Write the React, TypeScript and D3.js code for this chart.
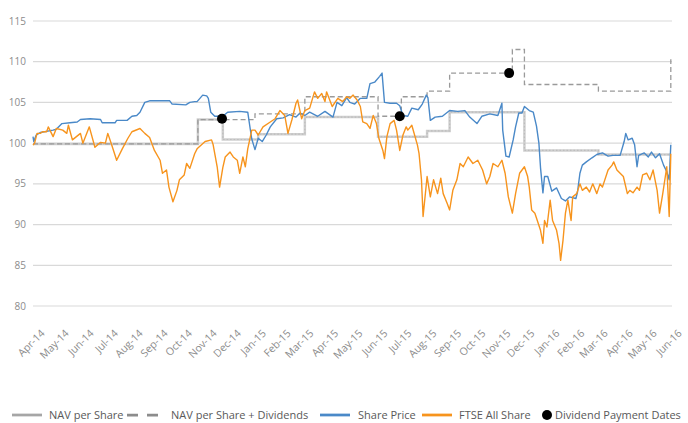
import React from "react";
import * as d3 from "d3";

// values
const navPerShare: [string, number][] = [
  ["2014-04-01", 99.9], ["2014-10-23", 102.9], ["2014-11-23", 100.45], ["2015-01-06", 101.1],
  ["2015-03-05", 103.2], ["2015-06-04", 100.8], ["2015-08-04", 101.5], ["2015-09-01", 103.8],
  ["2015-12-03", 99.1], ["2016-03-04", 98.6], ["2016-06-02", 98.6],
];

const navPlusDividends: [string, number][] = [
  ["2014-04-01", 99.9], ["2014-10-23", 102.9], ["2015-01-02", 103.6], ["2015-03-05", 105.7],
  ["2015-06-04", 103.3], ["2015-07-03", 105.7], ["2015-08-04", 106.4], ["2015-09-01", 108.6],
  ["2015-11-18", 111.5], ["2015-12-03", 107.2], ["2016-03-04", 106.4], ["2016-06-01", 106.4],
  ["2016-06-02", 110.3],
];

const sharePrice: [string, number][] = [
  ["2014-04-01", 100.8], ["2014-04-02", 100.2], ["2014-04-05", 101.0], ["2014-04-10", 101.3],
  ["2014-04-26", 101.6], ["2014-04-30", 101.7], ["2014-05-07", 102.4], ["2014-05-17", 102.5],
  ["2014-05-26", 102.6], ["2014-05-30", 102.9], ["2014-06-11", 103.0], ["2014-06-24", 102.9],
  ["2014-06-26", 102.5], ["2014-07-12", 102.5], ["2014-07-14", 102.8], ["2014-07-27", 102.8],
  ["2014-08-02", 103.3], ["2014-08-08", 103.4], ["2014-08-12", 103.8], ["2014-08-18", 105.0],
  ["2014-08-24", 105.2], ["2014-09-18", 105.2], ["2014-09-21", 104.8], ["2014-10-08", 104.7],
  ["2014-10-13", 105.0], ["2014-10-19", 105.1], ["2014-10-22", 105.1], ["2014-10-29", 105.9],
  ["2014-11-03", 105.8], ["2014-11-05", 105.5], ["2014-11-08", 103.8], ["2014-11-13", 103.3],
  ["2014-11-23", 103.3], ["2014-11-29", 103.8], ["2014-12-14", 103.9], ["2014-12-24", 103.8],
  ["2014-12-27", 101.8], ["2014-12-29", 100.5], ["2015-01-02", 99.2], ["2015-01-06", 100.6],
  ["2015-01-11", 100.2], ["2015-01-16", 101.0], ["2015-01-21", 102.0], ["2015-01-29", 103.0],
  ["2015-02-06", 103.1], ["2015-02-14", 103.5], ["2015-02-22", 103.2], ["2015-02-27", 103.7],
  ["2015-03-05", 103.4], ["2015-03-11", 103.8], ["2015-03-21", 103.3], ["2015-03-30", 103.9],
  ["2015-04-09", 103.2], ["2015-04-14", 105.0], ["2015-04-20", 104.6], ["2015-04-26", 105.6],
  ["2015-04-30", 105.0], ["2015-05-06", 104.8], ["2015-05-13", 105.5], ["2015-05-21", 105.5],
  ["2015-05-25", 107.3], ["2015-05-31", 107.5], ["2015-06-06", 108.2], ["2015-06-09", 108.6],
  ["2015-06-12", 105.0], ["2015-06-19", 104.9], ["2015-06-27", 104.9], ["2015-07-01", 104.6],
  ["2015-07-05", 103.4], ["2015-07-11", 103.3], ["2015-07-16", 104.3], ["2015-07-24", 104.1],
  ["2015-07-29", 104.8], ["2015-08-03", 105.9], ["2015-08-05", 105.6], ["2015-08-08", 102.8],
  ["2015-08-14", 103.2], ["2015-08-23", 103.3], ["2015-09-01", 104.0], ["2015-09-11", 103.9],
  ["2015-09-20", 104.0], ["2015-09-26", 103.2], ["2015-10-05", 102.4], ["2015-10-11", 103.3],
  ["2015-10-21", 103.6], ["2015-10-31", 103.4], ["2015-11-05", 104.9], ["2015-11-06", 101.6],
  ["2015-11-10", 98.4], ["2015-11-14", 98.3], ["2015-11-19", 100.4], ["2015-11-22", 102.0],
  ["2015-11-26", 103.7], ["2015-11-30", 103.7], ["2015-12-03", 104.5], ["2015-12-09", 104.0],
  ["2015-12-14", 103.8], ["2015-12-18", 102.1], ["2015-12-21", 100.0], ["2015-12-23", 97.0],
  ["2015-12-26", 93.9], ["2015-12-28", 95.9], ["2016-01-01", 95.9], ["2016-01-06", 94.1],
  ["2016-01-12", 94.5], ["2016-01-18", 93.2], ["2016-01-23", 92.9], ["2016-01-28", 93.4],
  ["2016-02-05", 93.2], ["2016-02-07", 94.0], ["2016-02-10", 96.3], ["2016-02-13", 97.3],
  ["2016-02-18", 97.7], ["2016-02-25", 98.2], ["2016-03-02", 98.6], ["2016-03-09", 98.8],
  ["2016-03-16", 98.4], ["2016-03-22", 98.5], ["2016-03-31", 98.5], ["2016-04-05", 100.2],
  ["2016-04-07", 101.2], ["2016-04-10", 100.4], ["2016-04-15", 100.6], ["2016-04-18", 99.8],
  ["2016-04-21", 97.1], ["2016-04-23", 98.5], ["2016-04-30", 98.8], ["2016-05-05", 98.3],
  ["2016-05-09", 98.9], ["2016-05-14", 98.2], ["2016-05-19", 98.7], ["2016-05-24", 97.3],
  ["2016-05-28", 96.5], ["2016-05-31", 95.5], ["2016-06-02", 99.8],
];

const ftseAllShare: [string, number][] = [
  ["2014-04-01", 99.75], ["2014-04-03", 100.0], ["2014-04-06", 101.2], ["2014-04-10", 101.2],
  ["2014-04-13", 101.4], ["2014-04-18", 101.4], ["2014-04-20", 102.0], ["2014-04-26", 100.8],
  ["2014-04-30", 101.8], ["2014-05-08", 101.6], ["2014-05-13", 101.2], ["2014-05-15", 102.2],
  ["2014-05-20", 100.4], ["2014-05-30", 101.2], ["2014-06-02", 100.0], ["2014-06-10", 102.0],
  ["2014-06-17", 99.5], ["2014-06-24", 100.1], ["2014-06-30", 100.0], ["2014-07-03", 101.2],
  ["2014-07-08", 99.75], ["2014-07-14", 97.9], ["2014-07-21", 99.3], ["2014-07-28", 100.6],
  ["2014-08-02", 101.4], ["2014-08-12", 101.8], ["2014-08-18", 101.2], ["2014-08-24", 100.7],
  ["2014-08-30", 99.1], ["2014-09-06", 97.9], ["2014-09-09", 96.3], ["2014-09-14", 96.7],
  ["2014-09-17", 94.6], ["2014-09-22", 92.8], ["2014-09-27", 94.2], ["2014-09-30", 95.5],
  ["2014-10-06", 96.1], ["2014-10-09", 97.5], ["2014-10-13", 96.9], ["2014-10-19", 98.7],
  ["2014-10-22", 99.3], ["2014-11-01", 100.2], ["2014-11-09", 100.4], ["2014-11-11", 99.8],
  ["2014-11-16", 97.1], ["2014-11-19", 94.6], ["2014-11-23", 97.0], ["2014-11-26", 98.3],
  ["2014-12-02", 98.9], ["2014-12-06", 98.3], ["2014-12-11", 97.9], ["2014-12-14", 96.3],
  ["2014-12-18", 98.3], ["2014-12-21", 97.1], ["2014-12-24", 99.3], ["2014-12-29", 101.6],
  ["2015-01-02", 101.6], ["2015-01-06", 101.0], ["2015-01-12", 102.0], ["2015-01-21", 102.6],
  ["2015-01-27", 103.0], ["2015-02-02", 104.0], ["2015-02-08", 103.4], ["2015-02-12", 101.2],
  ["2015-02-17", 102.9], ["2015-02-22", 104.9], ["2015-02-24", 105.3], ["2015-03-01", 103.0],
  ["2015-03-05", 104.0], ["2015-03-11", 104.3], ["2015-03-17", 106.3], ["2015-03-21", 105.5],
  ["2015-03-26", 106.1], ["2015-03-30", 105.1], ["2015-04-01", 106.3], ["2015-04-08", 104.5],
  ["2015-04-15", 105.5], ["2015-04-21", 105.1], ["2015-04-26", 105.7], ["2015-04-30", 105.5],
  ["2015-05-04", 105.9], ["2015-05-09", 105.3], ["2015-05-13", 104.5], ["2015-05-16", 102.6],
  ["2015-05-21", 102.4], ["2015-05-25", 101.8], ["2015-05-29", 103.4], ["2015-06-02", 102.4],
  ["2015-06-05", 100.6], ["2015-06-10", 99.1], ["2015-06-12", 98.1], ["2015-06-15", 100.8],
  ["2015-06-19", 102.4], ["2015-06-24", 102.8], ["2015-06-27", 101.6], ["2015-07-01", 99.1],
  ["2015-07-05", 101.0], ["2015-07-09", 102.0], ["2015-07-11", 101.6], ["2015-07-16", 102.2],
  ["2015-07-23", 99.75], ["2015-07-25", 98.7], ["2015-07-28", 95.5], ["2015-07-30", 91.0],
  ["2015-08-04", 95.9], ["2015-08-08", 93.4], ["2015-08-12", 95.5], ["2015-08-17", 93.8],
  ["2015-08-21", 95.7], ["2015-08-24", 93.8], ["2015-08-29", 92.6], ["2015-09-01", 91.8],
  ["2015-09-05", 94.2], ["2015-09-10", 95.5], ["2015-09-14", 97.5], ["2015-09-18", 97.1],
  ["2015-09-24", 98.3], ["2015-09-30", 97.5], ["2015-10-06", 97.9], ["2015-10-12", 96.7],
  ["2015-10-17", 95.0], ["2015-10-21", 95.9], ["2015-10-25", 97.5], ["2015-10-31", 97.1],
  ["2015-11-05", 97.9], ["2015-11-09", 96.3], ["2015-11-13", 93.4], ["2015-11-18", 91.4],
  ["2015-11-22", 93.8], ["2015-11-27", 96.3], ["2015-12-03", 97.1], ["2015-12-07", 95.9],
  ["2015-12-09", 94.6], ["2015-12-12", 91.8], ["2015-12-16", 91.4], ["2015-12-19", 90.5],
  ["2015-12-23", 89.3], ["2015-12-26", 87.7], ["2015-12-28", 90.5], ["2015-12-31", 89.7],
  ["2016-01-04", 93.0], ["2016-01-07", 90.5], ["2016-01-12", 89.3], ["2016-01-15", 87.7],
  ["2016-01-17", 85.6], ["2016-01-20", 88.1], ["2016-01-23", 91.4], ["2016-01-26", 93.0],
  ["2016-01-30", 90.5], ["2016-02-01", 93.4], ["2016-02-06", 93.8], ["2016-02-10", 95.0],
  ["2016-02-13", 94.2], ["2016-02-18", 94.6], ["2016-02-22", 94.0], ["2016-02-26", 95.0],
  ["2016-03-02", 93.8], ["2016-03-06", 95.0], ["2016-03-09", 94.6], ["2016-03-16", 96.7],
  ["2016-03-21", 97.3], ["2016-03-23", 97.7], ["2016-03-27", 96.7], ["2016-03-31", 96.3],
  ["2016-04-04", 95.9], ["2016-04-09", 93.8], ["2016-04-12", 94.2], ["2016-04-16", 93.9],
  ["2016-04-21", 94.6], ["2016-04-24", 94.2], ["2016-04-28", 96.1], ["2016-05-03", 96.3],
  ["2016-05-07", 95.5], ["2016-05-11", 96.7], ["2016-05-16", 94.2], ["2016-05-19", 91.4],
  ["2016-05-23", 93.8], ["2016-05-28", 97.1], ["2016-05-31", 91.0], ["2016-06-02", 98.7],
];

const dividendDates: [string, number][] = [
  ["2014-11-22", 103.0], ["2015-07-01", 103.3], ["2015-11-14", 108.6],
];

const yTicks = [80, 85, 90, 95, 100, 105, 110, 115];

const legendItems = ["NAV per Share", "NAV per Share  + Dividends", "Share Price", "FTSE All Share", "Dividend Payment  Dates"];

const W = 688;
const H = 423;

const parse = d3.timeParse("%Y-%m-%d");
const fmt = d3.timeFormat("%b-%y");

const App = () => {
  const x = d3.scaleTime().domain([new Date(2014, 3, 1), new Date(2016, 5, 1)]).range([33, 670]);
  const y = d3.scaleLinear().domain([80, 115]).range([306, 21]);
  const months = d3.timeMonth.range(new Date(2014, 3, 1), new Date(2016, 5, 2));

  const line = d3
    .line<[string, number]>()
    .x((d) => x(parse(d[0]) as Date))
    .y((d) => y(d[1]));
  const step = d3
    .line<[string, number]>()
    .x((d) => x(parse(d[0]) as Date))
    .y((d) => y(d[1]))
    .curve(d3.curveStepAfter);

  const font = "'Open Sans', sans-serif";
  const ly = 415; // legend row

  return (
    <div style={{ position: "fixed", left: 0, top: 0 }}>
      <svg width={W} height={H} style={{ display: "block", background: "#fff" }}>
        {yTicks.map((t) => (
          <g key={t}>
            <line x1={33} x2={672} y1={y(t)} y2={y(t)} stroke="#d9d9d9" strokeWidth={1.2} />
            <text x={26} y={y(t)} dy="0.35em" textAnchor="end" fontSize={10} fill="#8c8c8c" fontFamily={font}>
              {t}
            </text>
          </g>
        ))}

        {months.map((m, i) => (
          <text
            key={i}
            transform={`translate(${x(m) + 12.5},${334}) rotate(-45)`}
            textAnchor="end"
            fontSize={10.5}
            fill="#8c8c8c"
            fontFamily={font}
          >
            {fmt(m)}
          </text>
        ))}

        <path d={step(navPerShare) || ""} fill="none" stroke="#cfcfcf" strokeWidth={2.5} />
        <path d={step(navPerShare) || ""} fill="none" stroke="#bdbdbd" strokeWidth={1.2} strokeDasharray="1.5,2" />
        <path d={step(navPlusDividends) || ""} fill="none" stroke="#9a9a9a" strokeWidth={1.3} strokeDasharray="5,3" />
        <path d={line(sharePrice) || ""} fill="none" stroke="#4a89c8" strokeWidth={1.4} strokeLinejoin="round" />
        <path d={line(ftseAllShare) || ""} fill="none" stroke="#f7941d" strokeWidth={1.4} strokeLinejoin="round" />
        {dividendDates.map((d, i) => (
          <circle key={i} cx={x(parse(d[0]) as Date)} cy={y(d[1])} r={5} fill="#000" />
        ))}

        <g fontFamily={font} fontSize={11} fill="#595959">
          <line x1={12} x2={42} y1={ly} y2={ly} stroke="#a6a6a6" strokeWidth={2.75} />
          <text x={49} y={ly + 4}>{legendItems[0]}</text>
          <line x1={127} x2={158} y1={ly} y2={ly} stroke="#8c8c8c" strokeWidth={2.75} strokeDasharray="11,9" />
          <text x={171} y={ly + 4}>{legendItems[1]}</text>
          <line x1={320} x2={350} y1={ly} y2={ly} stroke="#4a89c8" strokeWidth={2.75} />
          <text x={358} y={ly + 4}>{legendItems[2]}</text>
          <line x1={422} x2={452} y1={ly} y2={ly} stroke="#f7941d" strokeWidth={2.75} />
          <text x={459} y={ly + 4}>{legendItems[3]}</text>
          <circle cx={547} cy={ly} r={5} fill="#000" />
          <text x={555} y={ly + 4}>{legendItems[4]}</text>
        </g>
      </svg>
    </div>
  );
};

export default App;
